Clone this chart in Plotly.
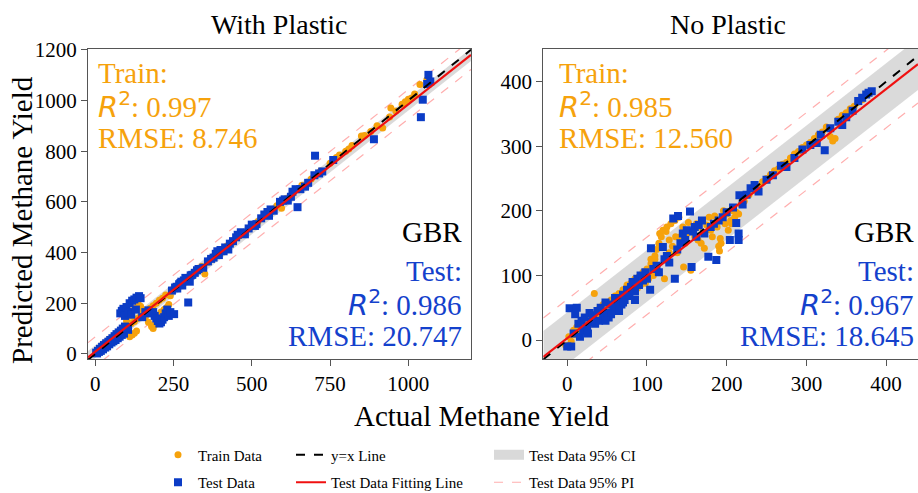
import plotly.graph_objects as go

W, H = 918, 493

# ---------------- data ----------------
# With Plastic - training set (actual, predicted)
wp_train_actual = [2, 5, 8, 10, 12, 15, 18, 20, 22, 25, 28, 30, 33, 35, 38, 40, 42, 45, 48, 50, 52, 55, 58, 60, 63, 65, 68, 70, 72, 75, 78, 80, 85, 88, 90, 95, 98,
                   110, 118, 125, 132, 100, 112, 120, 130, 138, 145, 150, 160, 170, 180, 185, 190, 195, 200, 210, 220, 230, 235, 240,
                   105, 115, 125, 135, 145, 155, 165, 175, 185, 195, 205, 215, 225, 250, 265, 280, 300, 320, 340, 350, 360, 380, 400, 420,
                   440, 460, 480, 500, 520, 540, 560, 580, 595, 610, 630, 660, 690, 720, 750, 770, 780, 800, 810, 820, 850, 860, 880, 900,
                   918, 940, 944, 960, 980, 990, 1000, 1010, 1020, 1037, 1059]
wp_train_pred = [3, 8, 5, 14, 10, 18, 15, 25, 20, 30, 24, 35, 28, 40, 33, 45, 38, 50, 42, 55, 48, 60, 52, 66, 58, 70, 62, 75, 68, 80, 72, 85, 78, 92, 86, 100, 94,
                 68, 75, 82, 90, 130, 150, 170, 182, 195, 188, 175, 145, 125, 108, 100, 115, 130, 150, 165, 175, 185, 195, 230,
                 112, 120, 128, 140, 150, 160, 170, 180, 190, 200, 212, 220, 232, 255, 270, 285, 305, 322, 345, 315, 362, 385, 398, 425,
                 442, 465, 478, 502, 522, 545, 558, 585, 575, 612, 632, 665, 690, 722, 752, 775, 785, 800, 808, 822, 860, 862, 878, 900,
                 891, 935, 970, 958, 985, 995, 1005, 1010, 1025, 1063, 1082]

# With Plastic - test set
wp_test_actual = [3, 6, 9, 12, 15, 18, 22, 25, 28, 32, 35, 38, 42, 45, 48, 52, 55, 58, 62, 65, 68, 72, 75, 78, 82, 85, 88, 92, 95,
                  80, 85, 90, 100, 110, 118, 125, 132, 140, 145, 95, 105, 115, 130,
                  185, 190, 195, 200, 205, 210, 215, 220, 225, 230, 235, 240,
                  100, 105, 150, 160, 170, 175, 245, 255, 262, 268, 272, 278, 283, 288, 295, 302, 305, 318, 325,
                  252, 297, 260, 275, 290, 310, 330, 345, 360, 370, 378, 385, 390, 395, 400, 410, 415, 425, 430, 440, 450, 455,
                  465, 470, 478, 490, 500, 510, 515, 530, 540, 550, 555, 560, 570, 590, 600, 605, 615, 625, 630, 640, 646,
                  655, 670, 680, 700, 702, 715, 725, 760, 890, 1040, 1046, 1064, 1070, 1060]
wp_test_pred = [5, 2, 12, 8, 20, 12, 28, 18, 35, 25, 42, 30, 48, 38, 55, 45, 62, 50, 70, 55, 78, 62, 85, 68, 92, 75, 100, 80, 108,
                160, 170, 178, 185, 200, 210, 215, 222, 228, 220, 150, 165, 155, 175,
                165, 150, 140, 130, 120, 125, 135, 145, 160, 175, 150, 165,
                105, 95, 145, 165, 172, 160, 250, 262, 258, 275, 280, 270, 290, 300, 298, 285, 310, 320, 330,
                157, 203, 265, 285, 292, 312, 335, 340, 365, 375, 380, 395, 405, 390, 410, 405, 420, 412, 435, 445, 460, 470,
                480, 475, 472, 495, 510, 505, 512, 535, 550, 560, 545, 570, 565, 600, 605, 610, 605, 620, 640, 650, 579,
                650, 660, 675, 705, 782, 712, 720, 765, 847, 934, 1003, 1101, 1075, 1065]

# No Plastic - training set
np_train_actual = [-2, 2, 5, 8, 10, 12, 15, 18, 20, 22, 25, 28, 30, 34, 35, 38, 40, 42, 45, 48, 50, 52, 55, 58, 60, 62, 65, 68, 70, 72, 75, 78,
                   80, 82, 85, 88, 90, 92, 95, 98, 100, 102, 105, 108, 110, 112, 115, 116, 118, 120, 122, 125, 128, 130, 132, 135, 138,
                   140, 142, 145, 146, 148, 150, 155, 158, 160, 162, 165, 168, 170, 172, 175, 178, 180, 185, 190, 191, 192, 193, 196,
                   198, 200, 205, 208, 210, 212, 215, 218, 222, 228, 235, 240, 245, 250, 255, 260, 265, 270, 275, 280, 285, 290, 295,
                   300, 305, 310, 315, 320, 325, 330, 333, 336, 340, 345, 350, 355, 360, 365, 370,
                   105, 110, 118, 124, 128, 136, 152, 164, 182, 188, 202, 206]
np_train_pred = [-8, 5, -2, 15, 8, 20, 12, 25, 18, 30, 22, 35, 25, 72, 40, 30, 48, 38, 55, 42, 58, 48, 62, 52, 68, 55, 72, 60, 78, 65, 85, 70,
                 88, 75, 95, 80, 98, 85, 105, 88, 110, 95, 118, 100, 125, 140, 150, 165, 160, 170, 95, 175, 155, 180, 145, 185, 135,
                 190, 160, 175, 113, 150, 165, 108, 170, 160, 180, 175, 150, 185, 142, 178, 190, 170, 192, 145, 138, 157, 150, 200,
                 180, 195, 185, 200, 190, 198, 195, 210, 215, 225, 232, 238, 245, 250, 256, 262, 265, 272, 275, 282, 288, 292, 298,
                 302, 306, 312, 318, 322, 330, 315, 308, 312, 342, 348, 352, 358, 362, 368, 372,
                 125, 130, 145, 168, 135, 160, 182, 155, 160, 175, 170, 180]

# No Plastic - test set
np_test_actual = [0, 3, 5, 8, 10, 12, 14, 16, 18, 20, 22, 25, 28, 30, 32, 35, 38, 40, 42, 45, 48, 50, 52, 55, 58, 60, 62, 65, 68, 70,
                  72, 75, 78, 80, 82, 85, 88, 90, 92, 95, 98, 100, 104, 105, 108, 112, 115, 120, 122, 125, 128, 133, 135, 138, 139,
                  142, 145, 148, 150, 154, 156, 158, 160, 162, 165, 169, 172, 177, 180, 184, 187, 190, 195, 200, 204, 208, 212, 215,
                  215, 216, 220, 225, 230, 235, 240, 250, 258, 268, 275, 285, 295, 305, 313, 318, 323, 330, 340, 345, 350, 358, 365,
                  370, 375, 378, 382, 55, 60, 65, 70, 85, 48, 26]
np_test_pred = [-10, 49, -10, 10, 40, 50, 25, 5, 30, 15, 35, 20, 42, 28, 38, 25, 45, 30, 50, 38, 58, 42, 35, 55, 45, 65, 50, 60, 55, 70,
                62, 78, 68, 82, 90, 75, 95, 85, 100, 92, 105, 95, 78, 142, 110, 115, 105, 144, 125, 130, 120, 188, 95, 140, 192,
                150, 165, 155, 170, 199, 113, 168, 175, 160, 178, 185, 165, 129, 175, 180, 124, 185, 190, 198, 155, 205, 181, 165,
                155, 224, 210, 225, 235, 240, 230, 248, 255, 270, 268, 282, 295, 302, 305, 318, 294, 328, 338, 333, 345, 355, 370,
                375, 380, 383, 385, 40, 48, 45, 58, 62, 30, 10]

# fitted test line and band half-widths (slope, intercept, CI, PI)
wp_fit = {"slope": 0.976, "intercept": 9.0, "ci": 25.0, "pi": 58.0}
np_fit = {"slope": 0.964, "intercept": 2.9, "ci": 40.0, "pi": 60.0}

wp_metrics = {"train_r2": "0.997", "train_rmse": "8.746", "test_r2": "0.986", "test_rmse": "20.747"}
np_metrics = {"train_r2": "0.985", "train_rmse": "12.560", "test_r2": "0.967", "test_rmse": "18.645"}

wp_xrange, wp_yrange = [-23, 1200], [-20, 1203]
np_xrange, np_yrange = [-30, 440], [-29.4, 450.6]
wp_ticks = [0, 250, 500, 750, 1000]
wp_yticks = [0, 200, 400, 600, 800, 1000, 1200]
np_ticks = [0, 100, 200, 300, 400]

# ---------------- style ----------------
ORANGE = "#F6A20C"
BLUE = "#0B3CC6"
TEXT_BLUE = "#1441CC"
SERIF = "Liberation Serif, Times New Roman, serif"
AXC = "#555555"
CI_COLOR = "rgba(205,205,205,0.75)"
PI_COLOR = "rgba(255,120,120,0.6)"


def px(x):
    return x / W


def py(y):
    return 1 - y / H


fig = go.Figure()


def add_panel(xa, ya, train_x, train_y, test_x, test_y, fit, xr, show):
    x0, x1 = xr
    f0 = fit["slope"] * x0 + fit["intercept"]
    f1 = fit["slope"] * x1 + fit["intercept"]
    ci, pi = fit["ci"], fit["pi"]
    # CI band
    fig.add_trace(go.Scatter(
        x=[x0, x1, x1, x0, x0], y=[f0 + ci, f1 + ci, f1 - ci, f0 - ci, f0 + ci],
        fill="toself", fillcolor=CI_COLOR, line=dict(width=0),
        mode="lines", xaxis=xa, yaxis=ya, showlegend=False, hoverinfo="skip"))
    # PI lines
    fig.add_trace(go.Scatter(
        x=[x0, x1], y=[f0 + pi, f1 + pi], mode="lines",
        line=dict(color=PI_COLOR, width=1.2, dash="dash"),
        name="Test Data 95% PI", xaxis=xa, yaxis=ya, legend="legend3",
        showlegend=show, legendrank=2, legendgroup="pi" + xa, hoverinfo="skip"))
    fig.add_trace(go.Scatter(
        x=[x0, x1], y=[f0 - pi, f1 - pi], mode="lines",
        line=dict(color=PI_COLOR, width=1.2, dash="dash"),
        xaxis=xa, yaxis=ya, showlegend=False, legendgroup="pi" + xa, hoverinfo="skip"))
    # scatter
    fig.add_trace(go.Scatter(
        x=train_x, y=train_y, mode="markers", name="Train Data",
        marker=dict(color=ORANGE, size=7, symbol="circle", line=dict(width=0)),
        xaxis=xa, yaxis=ya, legend="legend", showlegend=show, legendrank=1, legendgroup="tr" + xa))
    fig.add_trace(go.Scatter(
        x=test_x, y=test_y, mode="markers", name="Test Data",
        marker=dict(color=BLUE, size=8, symbol="square", line=dict(width=0)),
        xaxis=xa, yaxis=ya, legend="legend", showlegend=show, legendrank=2, legendgroup="te" + xa))
    # y = x
    fig.add_trace(go.Scatter(
        x=[x0, x1], y=[x0, x1], mode="lines", name="y=x Line",
        line=dict(color="black", width=2, dash="dash"),
        xaxis=xa, yaxis=ya, legend="legend2", showlegend=show, legendrank=1, legendgroup="yx" + xa))
    # fit
    fig.add_trace(go.Scatter(
        x=[x0, x1], y=[f0, f1], mode="lines", name="Test Data Fitting Line",
        line=dict(color="#F01010", width=2.2),
        xaxis=xa, yaxis=ya, legend="legend2", showlegend=show, legendrank=2, legendgroup="fit" + xa))


add_panel("x", "y", wp_train_actual, wp_train_pred, wp_test_actual, wp_test_pred, wp_fit, wp_xrange, True)
add_panel("x2", "y2", np_train_actual, np_train_pred, np_test_actual, np_test_pred, np_fit, np_xrange, False)

# legend swatch for the CI band (legend entry only, no data)
fig.add_trace(go.Scatter(x=[None], y=[None], mode="lines", name="Test Data 95% CI",
                         line=dict(color="#D9D9D9", width=12), legend="legend3",
                         legendrank=1, legendgroup="ci", showlegend=True))

axis_common = dict(showgrid=False, zeroline=False, showline=True, linecolor=AXC, linewidth=1.2,
                   ticks="outside", ticklen=6, tickcolor=AXC, tickwidth=1.2,
                   tickfont=dict(family=SERIF, size=21, color="black"))

leg_common = dict(yanchor="top", xanchor="left", orientation="v",
                  font=dict(family=SERIF, size=15, color="black"), tracegroupgap=5,
                  bgcolor="rgba(0,0,0,0)", traceorder="grouped")

fig.update_layout(
    width=W, height=H, margin=dict(l=0, r=0, t=0, b=0, autoexpand=False),
    paper_bgcolor="white", plot_bgcolor="white",
    xaxis=dict(domain=[px(88), px(471)], range=wp_xrange, tickvals=wp_ticks, mirror=True, anchor="y", **axis_common),
    yaxis=dict(domain=[py(359), py(49)], range=wp_yrange, tickvals=wp_yticks, mirror=True, anchor="x", **axis_common),
    xaxis2=dict(domain=[px(543.3), 1.0], range=np_xrange, tickvals=np_ticks, mirror=True, anchor="y2", **axis_common),
    yaxis2=dict(domain=[py(359), py(49)], range=np_yrange, tickvals=np_ticks, mirror=False, anchor="x2", **axis_common),
    legend=dict(x=px(158), y=py(438.5), **leg_common),
    legend2=dict(x=px(291), y=py(438.5), **leg_common),
    legend3=dict(x=px(489), y=py(438.5), **leg_common),
    showlegend=True,
)

R2 = '<span style="font-family:DejaVu Sans"><i>R</i><sup>2</sup></span>'


def ann(text, x, y, color, size=29, xanchor="left", **kw):
    fig.add_annotation(text=text, x=px(x), y=py(y), xref="paper", yref="paper",
                       xanchor=xanchor, yanchor="middle", showarrow=False,
                       font=dict(family=SERIF, size=size, color=color), **kw)


# panel titles
ann("With Plastic", 279.5, 24, "black", size=28, xanchor="center")
ann("No Plastic", 728, 24, "black", size=28, xanchor="center")
# axis titles
ann("Actual Methane Yield", 482, 416, "black", size=29, xanchor="center")
ann("Predicted Methane Yield", 22, 220, "black", size=29, xanchor="center", textangle=-90)

for m, lx, rx in [(wp_metrics, 96, 464), (np_metrics, 557, 916)]:
    ann("Train:", lx, 73, ORANGE)
    ann(R2 + ": " + m["train_r2"], lx, 105, ORANGE)
    ann("RMSE: " + m["train_rmse"], lx, 138, ORANGE)
    ann("GBR", rx, 232, "black", xanchor="right")
    ann("Test:", rx, 271, TEXT_BLUE, xanchor="right")
    ann(R2 + ": " + m["test_r2"], rx, 303, TEXT_BLUE, xanchor="right")
    ann("RMSE: " + m["test_rmse"], rx, 336, TEXT_BLUE, xanchor="right")

fig.write_html("out.html", config={"displayModeBar": False})
